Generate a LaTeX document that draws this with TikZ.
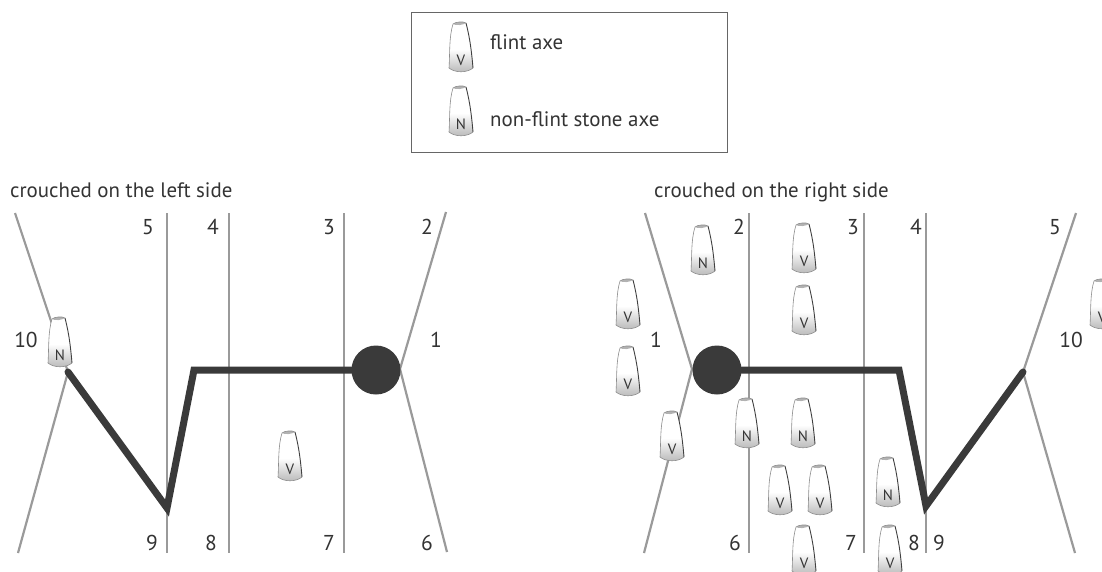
\documentclass[tikz,border=0pt]{standalone}
\usepackage{fontspec}
\setmainfont{PT Sans}
\tikzset{
  radial/.style={draw=linegray,line width=2.2pt},
  body/.style={draw=bodydark,line width=7pt,line join=miter,line cap=round},
  lbl/.style={inner sep=0pt,text=textdark,font=\fontsize{21.5}{24}\selectfont},
  txt/.style={inner sep=0pt,anchor=base west,text=textdark,font=\fontsize{20.9}{24}\selectfont},
  pics/axe/.style n args={1}{code={
    \path[fill=white] (-8,-23) .. controls (-6,-25) and (2,-26) .. (5,-24) .. controls (8,-12) and (10,-2) .. (12,21) .. controls (6,26) and (-6,26) .. (-12,21) .. controls (-11,5) and (-12,-10) .. (-8,-23) -- cycle;
    \begin{scope}
      \clip (-8,-23) .. controls (-6,-25) and (2,-26) .. (5,-24) .. controls (8,-12) and (10,-2) .. (12,21) .. controls (6,26) and (-6,26) .. (-12,21) .. controls (-11,5) and (-12,-10) .. (-8,-23) -- cycle;
      \shade[top color=white,bottom color=black!28] (-13,2) rectangle (13,26);
      \fill[black!30] (-8,-23) .. controls (-6,-25) and (2,-26) .. (5,-24) .. controls (2,-22) and (-5,-21) .. (-8,-23) -- cycle;
    \end{scope}
    \draw[draw=black!45,line width=.6pt] (-8,-23) .. controls (-6,-25) and (2,-26) .. (5,-24) (12,21) .. controls (6,26) and (-6,26) .. (-12,21) .. controls (-11,5) and (-12,-10) .. (-8,-23);
    \draw[draw=black!75,line width=.9pt] (5,-24) .. controls (8,-12) and (10,-2) .. (12,21);
    \node[inner sep=0pt,text=textdark,font=\fontsize{15}{16}\selectfont] at (0,13) {#1};
  }}
}
\definecolor{linegray}{HTML}{9A9A9A}
\definecolor{bodydark}{HTML}{3A3A3A}
\definecolor{textdark}{HTML}{333333}
\definecolor{boxgray}{HTML}{666666}
\begin{document}
\begin{tikzpicture}[x=1pt,y=-1pt]
\clip (0,0) rectangle (1102,571);
\fill[white] (0,0) rectangle (1102,571);

% legend
\node[draw=boxgray,line width=1pt,inner sep=0pt,minimum width=316pt,minimum height=140pt] (legend) at (569,82) {};
\pic at (461,47) {axe={V}};
\pic at (461,111) {axe={N}};
\node[txt] (lflint) at (490,49) {flint axe};
\node[txt] (lnon) at (490,126) {non-flint stone axe};

% titles
\node[txt] (tleft) at (10,197) {crouched on the left side};
\node[txt] (tright) at (654,197) {crouched on the right side};

% left diagram coordinates
\coordinate (Lhub) at (400,369);
\coordinate (Lfoot) at (68,372);
\coordinate (L10a) at (15,213);
\coordinate (L10b) at (18,553);
\coordinate (L2) at (446,212);
\coordinate (L6) at (447,552);
\foreach \n/\x in {La/167,Lb/229,Lc/344}{
  \coordinate (\n t) at (\x,213);
  \coordinate (\n b) at (\x,553);
  \draw[radial] (\n t) -- (\n b);
}
\draw[radial] (L10a) -- (Lfoot) -- (L10b);
\draw[radial] (L2) -- (Lhub) -- (L6);
\coordinate (Lknee) at (167,508);
\coordinate (Lhip) at (194,370);
\node[circle,fill=bodydark,minimum size=49pt,inner sep=0pt] (Lhead) at (376,370) {};
\draw[body] (Lfoot) -- (Lknee) -- (Lhip) -- (Lhead.center);

% right diagram coordinates
\coordinate (Rhub) at (692,369);
\coordinate (Rfoot) at (1023,372);
\coordinate (R1a) at (645,213);
\coordinate (R1b) at (644,553);
\coordinate (R5a) at (1076,213);
\coordinate (R5b) at (1075,553);
\foreach \n/\x in {Ra/749,Rb/864,Rc/926}{
  \coordinate (\n t) at (\x,213);
  \coordinate (\n b) at (\x,553);
  \draw[radial] (\n t) -- (\n b);
}
\draw[radial] (R1a) -- (Rhub) -- (R1b);
\draw[radial] (R5a) -- (Rfoot) -- (R5b);
\coordinate (Rknee) at (926,506);
\coordinate (Rhip) at (899,370);
\node[circle,fill=bodydark,minimum size=49pt,inner sep=0pt] (Rhead) at (717,370) {};
\draw[body] (Rfoot) -- (Rknee) -- (Rhip) -- (Rhead.center);

% axes
\foreach \x/\y/\t in {60/342/N,290/456/V,703/250/N,804/248/V,804/310/V,628/304/V,628/371/V,672/436/V,747/423/N,803/423/N,780/490/V,820/490/V,888/482/N,804/550/V,890/550/V,1102/304/V}{
  \pic at (\x,\y) {axe={\t}};
}

% numbers
\foreach \i/\x/\y/\t in {a/148/227/5,b/213/227/4,c/329/227/3,d/427/227/2,e/26/340/10,f/436/340/1,g/152/543/9,h/211/543/8,i/329/543/7,j/427/543/6,k/739/227/2,l/853/227/3,m/916/227/4,n/1055/227/5,o/656/340/1,p/1071/340/10,q/735/543/6,r/851/543/7,s/914/543/8,u/939/543/9}{
  \node[lbl] (num\i) at (\x,\y) {\t};
}
\end{tikzpicture}
\end{document}
